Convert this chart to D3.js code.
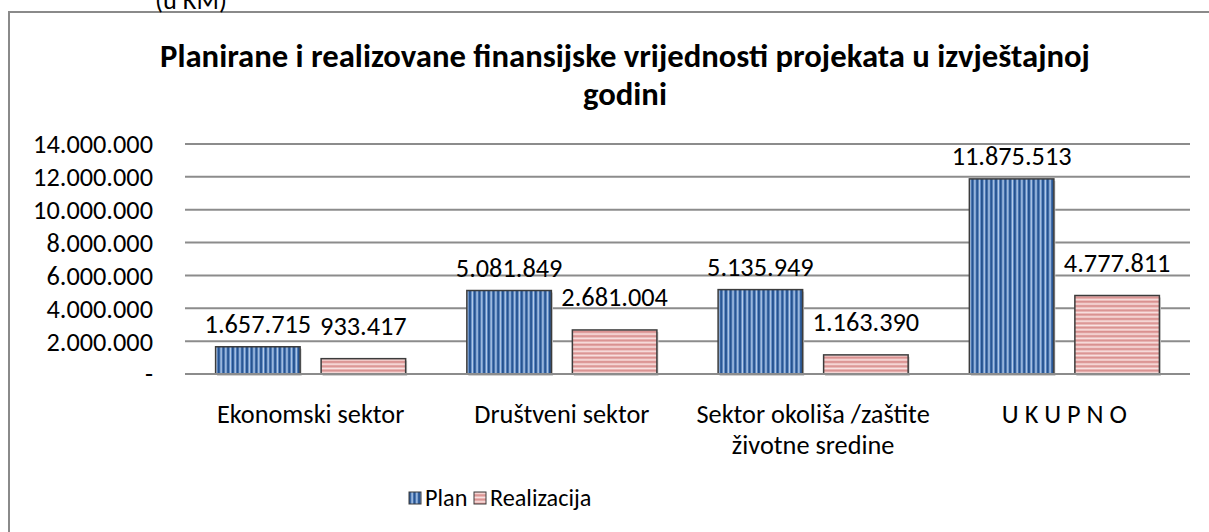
<!DOCTYPE html>
<html>
<head>
<meta charset="utf-8">
<script src="https://cdn.jsdelivr.net/npm/d3@7"></script>
<style>
  html, body { margin: 0; padding: 0; background: #fff; }
  svg { display: block; }
</style>
</head>
<body>
<svg id="chart" width="1209" height="532"></svg>
<script>
const categories = [["Ekonomski sektor"], ["Društveni sektor"], ["Sektor okoliša /zaštite", "životne sredine"], ["U K U P N O"]];
const seriesNames = ["Plan", "Realizacija"];
const planValues = [1657715, 5081849, 5135949, 11875513];
const realValues = [933417, 2681004, 1163390, 4777811];
const yTicks = [0, 2000000, 4000000, 6000000, 8000000, 10000000, 12000000, 14000000];
const titleLines = ["Planirane i realizovane finansijske vrijednosti projekata u izvještajnoj", "godini"];
const unitLabel = "(u KM)";

const FONT = "Carlito, Calibri, Lato, 'Open Sans', sans-serif";
const svg = d3.select("#chart");

function fitSize(text, targetWidth, weight) {
  const t = svg.append("text").attr("font-family", FONT).attr("font-size", 100)
    .attr("font-weight", weight || "normal").text(text);
  const w = t.node().getComputedTextLength();
  t.remove();
  return 100 * targetWidth / w;
}
const baseSize = fitSize("14.000.000", 120);
const titleSize = fitSize(titleLines[0], 930, "bold");

const locale = d3.formatLocale({decimal: ",", thousands: ".", grouping: [3], currency: ["", ""]});
const fmt = locale.format(",d");

const defs = svg.append("defs");
const pPlan = defs.append("pattern").attr("id", "patPlan").attr("patternUnits", "userSpaceOnUse")
  .attr("width", 4.7).attr("height", 10);
pPlan.append("rect").attr("width", 4.7).attr("height", 10).attr("fill", "#5884c0");
pPlan.append("rect").attr("x", 0).attr("width", 1.7).attr("height", 10).attr("fill", "#23508d");
pPlan.append("rect").attr("x", 2.6).attr("width", 1.2).attr("height", 10).attr("fill", "#b7cde9");
const pReal = defs.append("pattern").attr("id", "patReal").attr("patternUnits", "userSpaceOnUse")
  .attr("width", 10).attr("height", 4.3);
pReal.append("rect").attr("width", 10).attr("height", 4.3).attr("fill", "#eab7b6");
pReal.append("rect").attr("y", 0).attr("width", 10).attr("height", 1.5).attr("fill", "#d9908f");
pReal.append("rect").attr("y", 2.4).attr("width", 10).attr("height", 1.1).attr("fill", "#f8e2e2");
const fills = {"Plan": "url(#patPlan)", "Realizacija": "url(#patReal)"};

svg.append("rect").attr("x", 9).attr("y", 12).attr("width", 1300).attr("height", 600)
  .attr("fill", "none").attr("stroke", "#8a8a8a").attr("stroke-width", 2);

svg.append("text").attr("x", 155).attr("y", 9).attr("font-family", FONT)
  .attr("font-size", baseSize).attr("fill", "#000").text(unitLabel);

svg.append("g").selectAll("text").data(titleLines).join("text")
  .attr("x", 625).attr("y", (d, i) => 67 + i * 38)
  .attr("text-anchor", "middle").attr("font-family", FONT).attr("font-weight", "bold")
  .attr("font-size", titleSize).attr("fill", "#000").text(d => d);

const x0 = d3.scaleBand().domain(d3.range(categories.length)).range([185, 1190]).paddingInner(0).paddingOuter(0);
const x1 = d3.scaleBand().domain(seriesNames).range([0, x0.bandwidth()]).paddingInner(0.199).paddingOuter(0.29);
const y = d3.scaleLinear().domain([0, 14000000]).range([374, 144]);

svg.append("g").selectAll("line").data(yTicks).join("line")
  .attr("x1", 185).attr("x2", 1190).attr("y1", d => y(d)).attr("y2", d => y(d))
  .attr("stroke", "#8c8c8c").attr("stroke-width", 2);

const yAxis = svg.append("g").attr("transform", "translate(185,0)")
  .call(d3.axisLeft(y).tickValues(yTicks).tickSize(0).tickPadding(32)
    .tickFormat(d => d === 0 ? "-" : fmt(d)));
yAxis.select(".domain").remove();
yAxis.selectAll("text").attr("font-family", FONT).attr("font-size", baseSize).attr("fill", "#000")
  .attr("dy", "0.34em");

const data = categories.map((c, i) => ({i, vals: [{s: "Plan", v: planValues[i]}, {s: "Realizacija", v: realValues[i]}]}));
const groups = svg.append("g").selectAll("g").data(data).join("g")
  .attr("transform", d => `translate(${x0(d.i)},0)`);
groups.selectAll("rect.shadow").data(d => d.vals).join("rect").attr("class", "shadow")
  .attr("x", d => x1(d.s) + 1.5).attr("y", d => y(d.v) + 2)
  .attr("width", x1.bandwidth()).attr("height", d => y(0) - y(d.v))
  .attr("fill", "#d0d0d0");
groups.selectAll("rect.bar").data(d => d.vals).join("rect").attr("class", "bar")
  .attr("x", d => x1(d.s)).attr("y", d => y(d.v))
  .attr("width", x1.bandwidth()).attr("height", d => y(0) - y(d.v))
  .attr("fill", d => fills[d.s]).attr("stroke", "#3c3c3c").attr("stroke-width", 1.5);
groups.selectAll("text.val").data(d => d.vals).join("text").attr("class", "val")
  .attr("x", d => x1(d.s) + x1.bandwidth() / 2)
  .attr("y", d => y(d.v) - (d.s === "Plan" ? 14 : 24))
  .attr("text-anchor", "middle").attr("font-family", FONT).attr("font-size", baseSize)
  .attr("fill", "#000").text(d => fmt(d.v));

svg.append("line").attr("x1", 185).attr("x2", 1190).attr("y1", y(0)).attr("y2", y(0))
  .attr("stroke", "#8c8c8c").attr("stroke-width", 2);

const catG = svg.append("g").selectAll("text").data(categories.map((c, i) => ({c, i}))).join("text")
  .attr("x", d => x0(d.i) + x0.bandwidth() / 2).attr("y", 423)
  .attr("text-anchor", "middle").attr("font-family", FONT).attr("font-size", baseSize).attr("fill", "#000");
catG.selectAll("tspan").data(d => d.c.map(line => ({line, x: x0(d.i) + x0.bandwidth() / 2}))).join("tspan")
  .attr("x", d => d.x).attr("dy", (d, j) => j === 0 ? 0 : 31).text(d => d.line);

const legend = svg.append("g");
const legX = [409, 474];
seriesNames.forEach((s, i) => {
  legend.append("rect").attr("x", legX[i]).attr("y", 492).attr("width", 12).attr("height", 12)
    .attr("fill", fills[s]).attr("stroke", "#3c3c3c").attr("stroke-width", 1);
  legend.append("text").attr("x", legX[i] + 16).attr("y", 506).attr("font-family", FONT)
    .attr("font-size", baseSize * 0.92).attr("fill", "#000").text(s);
});
</script>
</body>
</html>
